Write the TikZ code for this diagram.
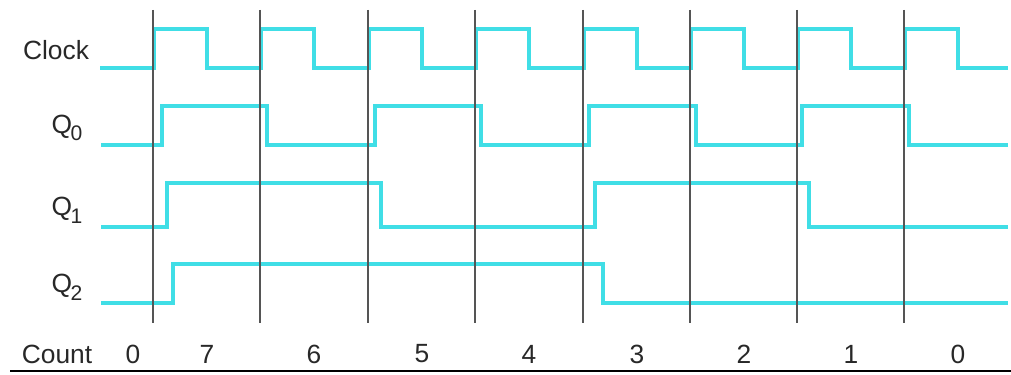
\documentclass[tikz,border=0pt]{standalone}
\usepackage{fontspec}
\setmainfont{Liberation Sans}

\definecolor{signal}{RGB}{64,222,230}
\definecolor{edgeline}{RGB}{85,85,85}
\definecolor{labeltext}{RGB}{40,40,40}

\newcommand{\qsub}[1]{Q\kern-0.8pt\raisebox{-0.55ex}{\fontsize{12}{13}\selectfont #1}}

\begin{document}
\begin{tikzpicture}[x=0.02cm,y=-0.02cm,
    every node/.style={font=\fontsize{15}{18}\selectfont,text=labeltext,inner sep=0pt},
    sig/.style={signal,line width=1.8pt,line join=miter},
    edgemark/.style={edgeline,line width=0.8pt},
    baseline/.style={black,line width=1.2pt}]
    \useasboundingbox (0,0) rectangle (1011,375);

    % Signal names
    \node (clk) at (56,50) {Clock};
    \node (q0) at (67,128) {\qsub{0}};
    \node (q1) at (67,210) {\qsub{1}};
    \node (q2) at (67,287) {\qsub{2}};

    % Clock: rising edge every period
    \draw[sig] (100,68)
        \foreach \e in {153,260,368,475,583,690,797,904} {
            -- (\e+1,68) -- (\e+1,29) -- (\e+54,29) -- (\e+54,68)
        } -- (1008,68);

    % Q0 toggles on every clock edge
    \draw[sig] (101,145) -- (162,145) -- (162,106) -- (267,106) -- (267,145)
        -- (375,145) -- (375,106) -- (481,106) -- (481,145)
        -- (589,145) -- (589,106) -- (696,106) -- (696,145)
        -- (802,145) -- (802,106) -- (909,106) -- (909,145) -- (1008,145);

    % Q1
    \draw[sig] (101,227) -- (167,227) -- (167,183) -- (381,183) -- (381,227)
        -- (595,227) -- (595,183) -- (809,183) -- (809,227) -- (1008,227);

    % Q2
    \draw[sig] (101,303) -- (173,303) -- (173,264) -- (603,264) -- (603,303) -- (1008,303);

    % Clock edges
    \foreach \e in {153,260,368,475,583,690,797,904}
        \draw[edgemark] (\e,10) -- (\e,323);

    % Count row
    \node (count) at (57,354) {Count};
    \node (n0) at (133,354) {0};
    \foreach \e/\n [count=\i] in {153/7,260/6,368/5,475/4,583/3,690/2,797/1,904/0}
        \node (c\i) at (\e+54,354) {\n};
    \draw[baseline] (10,371) -- (1011,371);
\end{tikzpicture}
\end{document}
